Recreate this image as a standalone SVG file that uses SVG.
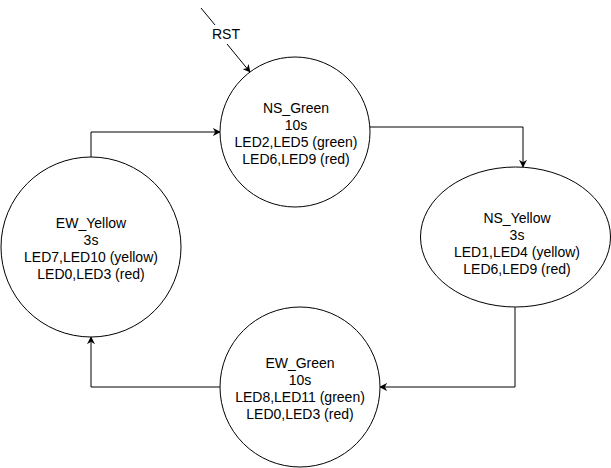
<svg xmlns="http://www.w3.org/2000/svg" width="611" height="468" viewBox="0 0 611 468">
<defs>
<marker id="arr" viewBox="0 0 10 10" refX="9" refY="5" markerWidth="8" markerHeight="8" markerUnits="userSpaceOnUse" orient="auto">
<path d="M0,0 L10,5 L0,10 L3,5 Z" fill="#000"/>
</marker>
<style>
.node{fill:#fff;stroke:#000;stroke-width:1}
.edge{fill:none;stroke:#000;stroke-width:1}
text{font-family:"Liberation Sans",Arial,sans-serif;font-size:14px;fill:#000;text-anchor:middle}
</style>
</defs>
<rect width="611" height="468" fill="#fff"/>
<g id="connectors">
<path class="edge" d="M201,8 L215,25"/>
<path class="edge" d="M227,44 L250,72" marker-end="url(#arr)"/>
<text x="226" y="39">RST</text>
<path class="edge" d="M370,127 L523,127 L523,167" marker-end="url(#arr)"/>
<path class="edge" d="M515,307 L515,387 L380,387" marker-end="url(#arr)"/>
<path class="edge" d="M220,387 L91,387 L91,337" marker-end="url(#arr)"/>
<path class="edge" d="M91,157 L91,132 L220,132" marker-end="url(#arr)"/>
</g>
<g id="ns_green">
<circle class="node" cx="295" cy="132" r="75"/>
<text x="296" y="113">NS_Green</text>
<text x="296" y="130">10s</text>
<text x="296" y="147">LED2,LED5 (green)</text>
<text x="296" y="164">LED6,LED9 (red)</text>
</g>
<g id="ns_yellow">
<ellipse class="node" cx="515.5" cy="237" rx="95" ry="70"/>
<text x="517" y="223">NS_Yellow</text>
<text x="517" y="240">3s</text>
<text x="517" y="257">LED1,LED4 (yellow)</text>
<text x="517" y="274">LED6,LED9 (red)</text>
</g>
<g id="ew_green">
<circle class="node" cx="300" cy="387" r="80"/>
<text x="300" y="368">EW_Green</text>
<text x="300" y="385">10s</text>
<text x="300" y="402">LED8,LED11 (green)</text>
<text x="300" y="419">LED0,LED3 (red)</text>
</g>
<g id="ew_yellow">
<circle class="node" cx="91" cy="247" r="90"/>
<text x="91" y="228">EW_Yellow</text>
<text x="91" y="245">3s</text>
<text x="91" y="262">LED7,LED10 (yellow)</text>
<text x="91" y="279">LED0,LED3 (red)</text>
</g>
</svg>
